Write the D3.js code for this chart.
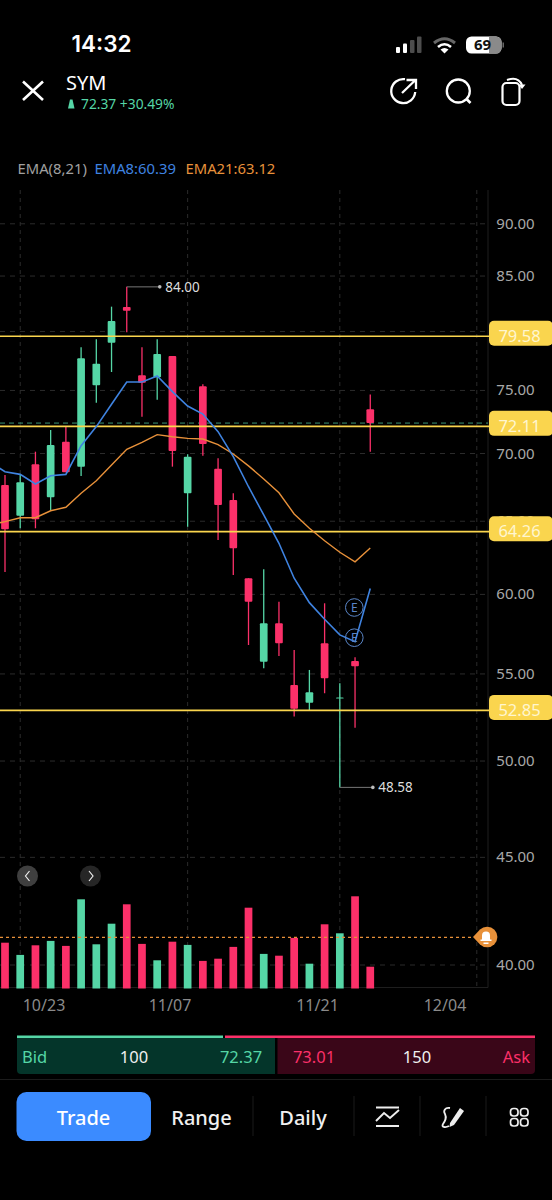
<!DOCTYPE html>
<html><head><meta charset="utf-8">
<script src="https://cdnjs.cloudflare.com/ajax/libs/d3/7.8.5/d3.min.js"></script>
<style>html,body{margin:0;padding:0;background:#000;overflow:hidden}svg{display:block}text{font-family:"Noto Sans","Open Sans",sans-serif}</style>
</head><body><div id="c"></div>
<script>
const dates=["10/20","10/23","10/24","10/25","10/26","10/27","10/30","10/31","11/01","11/02","11/03","11/06","11/07","11/08","11/09","11/10","11/13","11/14","11/15","11/16","11/17","11/20","11/21","11/22","11/24"];
const open =[67.63,65.40,69.18,66.72,70.91,69.00,75.42,79.02,82.17,76.25,76.09,77.88,67.02,75.34,68.85,66.53,61.07,55.74,58.13,54.34,53.30,56.88,53.56,55.78,73.47];
const high =[68.37,68.37,70.14,71.83,72.09,78.63,79.32,82.20,84.00,78.63,79.32,77.88,69.94,75.50,69.64,67.02,61.07,61.67,59.52,56.46,55.24,59.42,54.44,56.01,74.66];
const low  =[61.49,64.50,64.50,65.80,68.58,68.30,74.00,76.53,79.93,72.88,74.24,69.00,64.61,69.83,63.68,61.29,56.77,55.34,56.09,52.49,52.82,53.85,48.58,51.86,70.14];
const close=[64.43,67.83,65.14,70.66,68.58,77.68,77.23,80.92,81.84,75.64,78.05,70.19,69.76,70.73,66.16,63.10,59.52,58.13,56.88,52.95,53.91,54.74,53.60,55.46,72.37];
const volume=[2.29,1.68,2.16,2.38,2.13,4.46,2.21,3.24,4.21,2.23,1.41,2.34,2.18,1.38,1.49,2.08,4.04,1.73,1.64,2.53,1.24,3.21,2.76,4.61,1.09];
// EMA values start one session before the first visible candle
const ema8 =[69.35,68.62,68.42,67.70,68.32,68.42,70.60,72.09,73.87,75.70,75.70,76.19,74.90,73.73,73.09,71.69,69.76,67.50,65.45,63.45,61.07,59.46,58.39,57.40,56.97,60.39];
const ema21=[64.73,64.97,65.25,65.25,65.75,66.00,67.02,67.95,69.13,70.32,70.86,71.46,71.30,71.17,71.12,70.68,69.96,69.06,68.08,67.06,65.52,64.50,63.63,62.83,62.18,63.12];
const gridTicks=[40,45,50,55,60,65,70,75,80,85,90];
const priceLabels=[40,45,50,55,60,65,70,75,85,90];
const levels=[79.58,72.11,64.26,52.85];
const dateTicks=[{i:1,label:"10/23",lx:44},{i:12,label:"11/07",lx:170},{i:22,label:"11/21",lx:317.5},{i:31,label:"12/04",lx:445}];
const last=72.37, volAlert=2.56, hiLabel=84.00, loLabel=48.58;

const W=552,H=1200;
const G="#55d6a6",R="#fb3069",Y="#fad54e",BL="#3f83e0",OR="#e8913a",GREY="#a8a8a8";
const svg=d3.select("#c").append("svg").attr("width",W).attr("height",H);
svg.append("rect").attr("width",W).attr("height",H).attr("fill","#000");

const x=d3.scaleLinear().domain([0,31]).range([5,476.8]);
const y=d3.scaleLog().domain([40,90]).range([965,223.8]);
const v=d3.scaleLinear().domain([0,5]).range([988.5,888.5]);
const plotTop=190,plotBot=987.5,plotR=488;
const bw=7.7;

// grid
const grid=svg.append("g");
grid.selectAll(".h").data(gridTicks).join("line").attr("x1",0).attr("x2",plotR)
 .attr("y1",d=>y(d)).attr("y2",d=>y(d)).attr("stroke","#2b2b2b").attr("stroke-dasharray","5 5");
grid.selectAll(".v").data(dateTicks).join("line").attr("x1",d=>x(d.i)).attr("x2",d=>x(d.i))
 .attr("y1",plotTop).attr("y2",plotBot).attr("stroke","#2b2b2b").attr("stroke-dasharray","4 4");
svg.append("path").attr("d",`M${plotR} ${plotTop}V${plotBot}H0`).attr("fill","none").attr("stroke","#1e1e1e");

// volume
svg.append("g").selectAll("rect").data(dates).join("rect")
 .attr("x",(d,i)=>x(i)-bw/2).attr("width",bw)
 .attr("y",(d,i)=>v(volume[i])).attr("height",(d,i)=>v(0)-v(volume[i]))
 .attr("fill",(d,i)=>close[i]>=open[i]?G:R);
svg.append("line").attr("x1",0).attr("x2",474).attr("y1",v(volAlert)).attr("y2",v(volAlert))
 .attr("stroke",OR).attr("stroke-width",1.3).attr("stroke-dasharray","3 3");

// last price
svg.append("line").attr("x1",0).attr("x2",plotR).attr("y1",y(last)).attr("y2",y(last))
 .attr("stroke",G).attr("stroke-opacity",.7).attr("stroke-dasharray","5 4");
// candles
const cg=svg.append("g").selectAll("g").data(dates).join("g");
cg.append("line").attr("x1",(d,i)=>x(i)).attr("x2",(d,i)=>x(i)).attr("y1",(d,i)=>y(high[i])).attr("y2",(d,i)=>y(low[i]))
 .attr("stroke",(d,i)=>close[i]>=open[i]?G:R).attr("stroke-width",1.3);
cg.append("rect").attr("x",(d,i)=>x(i)-bw/2).attr("width",bw).attr("rx",1)
 .attr("y",(d,i)=>y(Math.max(open[i],close[i])))
 .attr("height",(d,i)=>Math.max(1,y(Math.min(open[i],close[i]))-y(Math.max(open[i],close[i]))))
 .attr("fill",(d,i)=>close[i]>=open[i]?G:R);

// levels
svg.append("g").selectAll("line").data(levels).join("line").attr("x1",0).attr("x2",plotR+2)
 .attr("y1",d=>y(d)).attr("y2",d=>y(d)).attr("stroke",Y).attr("stroke-width",1.7);

// EMAs
const line=d3.line().x((d,i)=>x(i-1)).y(d=>y(d));
svg.append("path").attr("d",line(ema21)).attr("fill","none").attr("stroke",OR).attr("stroke-width",1.4);
svg.append("path").attr("d",line(ema8)).attr("fill","none").attr("stroke",BL).attr("stroke-width",1.6);

// earnings
[[354.3,607.5],[354.3,637.7]].forEach(([cx,cy])=>{
 svg.append("circle").attr("cx",cx).attr("cy",cy).attr("r",8.8).attr("fill","none").attr("stroke","#5a86c8");
 svg.append("text").attr("x",cx).attr("y",cy+4.3).attr("text-anchor","middle").attr("font-size",12).attr("fill","#5a86c8").text("E");
});

// hi/lo
function callout(i,val){
 const px=x(i),py=y(val);
 svg.append("path").attr("d",`M${px} ${py}H${px+32}`).attr("stroke","#777").attr("fill","none");
 svg.append("circle").attr("cx",px+33).attr("cy",py).attr("r",1.8).attr("fill","#bbb");
 svg.append("text").attr("x",px+38.5).attr("y",py+5).attr("font-size",13.5).attr("fill","#ddd").text(d3.format(".2f")(val));
}
callout(8,hiLabel);callout(22,loLabel);

// price labels
svg.append("g").selectAll("text").data(priceLabels).join("text").attr("x",515.5).attr("y",d=>y(d)+5)
 .attr("text-anchor","middle").attr("font-size",15).attr("fill",GREY).text(d=>d3.format(".2f")(d));
const tag=svg.append("g").selectAll("g").data(levels).join("g");
tag.append("rect").attr("x",489).attr("width",64).attr("y",d=>y(d)-15.5).attr("height",25).attr("rx",5).attr("fill",Y);
tag.append("text").attr("x",519.5).attr("y",d=>y(d)+5.5).attr("text-anchor","middle").attr("font-size",16.5).attr("fill","#fff6cf").text(d=>d3.format(".2f")(d));

// date labels
svg.append("g").selectAll("text").data(dateTicks).join("text").attr("x",d=>d.lx).attr("y",1011)
 .attr("text-anchor","middle").attr("font-size",16).attr("fill","#8a8a8a").text(d=>d.label);

// scroll buttons
[[27.5,"#3f3f3f","M29.5 871L25.5 876L29.5 881"],[90.5,"#262626","M89 871L93 876L89 881"]].forEach(([cx,f,p])=>{
 svg.append("circle").attr("cx",cx).attr("cy",876).attr("r",10.5).attr("fill",f);
 svg.append("path").attr("d",p).attr("fill","none").attr("stroke","#eee").attr("stroke-width",1.2);
});
// bell
svg.append("path").attr("d","M473 937L480 929.5A10.3 10.3 0 1 1 480 944.5Z").attr("fill",OR);
svg.append("path").attr("d","M482 939.5V935.5A4 4 0 0 1 490 935.5V939.5H491.5V941H480.5V939.5Z M483.5 942.5H488.5V944H483.5Z").attr("fill","#fff");

// header
function T(xp,yp,s,size,fill,anchor,w){return svg.append("text").attr("x",xp).attr("y",yp).attr("font-size",size).attr("fill",fill).attr("text-anchor",anchor||"start").attr("font-weight",w||400).text(s);}
T(71.5,52,"14:32",22.5,"#fff","start",600).style("font-family","Inter,'Noto Sans'");
// status icons
[[396,47,4,6,1],[403,43.5,4,9.5,1],[410,40,4.5,13,.3],[417,36.5,4.5,16.5,.3]].forEach(d=>{svg.append("rect").attr("x",d[0]).attr("y",d[1]).attr("width",d[2]).attr("height",d[3]).attr("rx",1).attr("fill","#fff").attr("opacity",d[4]);});
svg.append("path").attr("d","M434 43Q444.5 34.5 455 43").attr("fill","none").attr("stroke","#666").attr("stroke-width",3);
svg.append("path").attr("d","M438 47Q444.5 41.5 451 47").attr("fill","none").attr("stroke","#fff").attr("stroke-width",2.6);
svg.append("path").attr("d","M440.5 49.5Q444.5 46.5 448.5 49.5L444.5 53.5Z").attr("fill","#fff");
svg.append("rect").attr("x",466).attr("y",36.5).attr("width",35.5).attr("height",17).attr("rx",5.5).attr("fill","#fff");
svg.append("path").attr("d","M489 36.5H496A5.5 5.5 0 0 1 501.5 42V48A5.5 5.5 0 0 1 496 53.5H489Z").attr("fill","#8a8a8a");
svg.append("rect").attr("x",502.5).attr("y",42.5).attr("width",1.5).attr("height",5).attr("fill","#666");
T(482.5,50,"69",15,"#111","middle",700);

svg.append("path").attr("d","M23 81.5L43 100M43 81.5L23 100").attr("stroke","#fff").attr("stroke-width",2.6).attr("fill","none");
T(66,90,"SYM",20,"#fff");
svg.append("path").attr("d","M68 108.5L70 99.5H72.5L74.5 108.5Z").attr("fill",G);
T(81,109,"72.37 +30.49%",13.8,G);
// header icons
svg.append("path").attr("d","M405 79.2A12 12 0 1 0 415.2 92").attr("fill","none").attr("stroke","#fff").attr("stroke-width",2.3);
svg.append("path").attr("d","M402 93L415 80.5M406.5 80H416V89").attr("fill","none").attr("stroke","#fff").attr("stroke-width",2.3);
svg.append("circle").attr("cx",458.3).attr("cy",91).attr("r",11.5).attr("fill","none").attr("stroke","#fff").attr("stroke-width",2.3);
svg.append("path").attr("d","M466.5 99L470.5 103").attr("stroke","#fff").attr("stroke-width",2.6);
svg.append("rect").attr("x",502.5).attr("y",83).attr("width",17).attr("height",22).attr("rx",4).attr("fill","none").attr("stroke","#fff").attr("stroke-width",2.2);
svg.append("path").attr("d","M507 80Q518 76 522 85").attr("fill","none").attr("stroke","#fff").attr("stroke-width",2.1);
svg.append("path").attr("d","M518.5 84.5H525.5L522 89Z").attr("fill","#fff");

// EMA legend
T(17.5,174,"EMA(8,21)",14.8,"#a0a0a0");
T(94.5,174,"EMA8:60.39",14.8,BL);
T(185.5,174,"EMA21:63.12",14.8,OR);

// bid/ask
svg.append("path").attr("d","M17 1038H275V1074H21A4 4 0 0 1 17 1070Z").attr("fill","#04352a");
svg.append("path").attr("d","M277.5 1038H535V1070A4 4 0 0 1 531 1074H277.5Z").attr("fill","#3a0618");
svg.append("rect").attr("x",17).attr("y",1035.5).attr("width",206).attr("height",2.5).attr("fill",G);
svg.append("rect").attr("x",225).attr("y",1035.5).attr("width",310).attr("height",2.5).attr("fill",R);
T(22,1063,"Bid",16.5,G);T(134,1063,"100",16.5,"#f0f0f0","middle");T(241,1063,"72.37",16.5,G,"middle");
T(314,1063,"73.01",16.5,R,"middle");T(417,1063,"150",16.5,"#f0f0f0","middle");T(530,1063,"Ask",16.5,R,"end");
svg.append("line").attr("x1",0).attr("x2",W).attr("y1",1079.5).attr("y2",1079.5).attr("stroke","#1c1c1c");

// toolbar
svg.append("rect").attr("x",16.5).attr("y",1092).attr("width",134.5).attr("height",49).attr("rx",10).attr("fill","#3b8bff");
T(83.5,1125,"Trade",20,"#fff","middle",500);
T(201.5,1125,"Range",20,"#f0f0f0","middle",500);
T(303,1125,"Daily",20,"#f0f0f0","middle",500);
[253,354,420,486].forEach(s=>svg.append("line").attr("x1",s).attr("x2",s).attr("y1",1096).attr("y2",1136).attr("stroke","#1a1a1a"));
svg.append("path").attr("d","M376 1107.5H399M376 1126H399M376 1121L384 1113L390 1118L399 1110").attr("fill","none").attr("stroke","#eee").attr("stroke-width",1.9);
svg.append("path").attr("d","M450 1108C445 1107 443 1111 445 1114C447 1118 445 1121 443 1124C441 1127 445 1128 449 1126").attr("fill","none").attr("stroke","#eee").attr("stroke-width",1.8);
svg.append("path").attr("d","M450 1123L460 1108L464 1111L454 1125L449.5 1127Z").attr("fill","#eee");
[[510.5,1108.5],[520.5,1108.5],[510.5,1118.5],[520.5,1118.5]].forEach(([a,b])=>svg.append("rect").attr("x",a).attr("y",b).attr("width",7.5).attr("height",7.5).attr("rx",3).attr("fill","none").attr("stroke","#eee").attr("stroke-width",1.7));
</script></body></html>
